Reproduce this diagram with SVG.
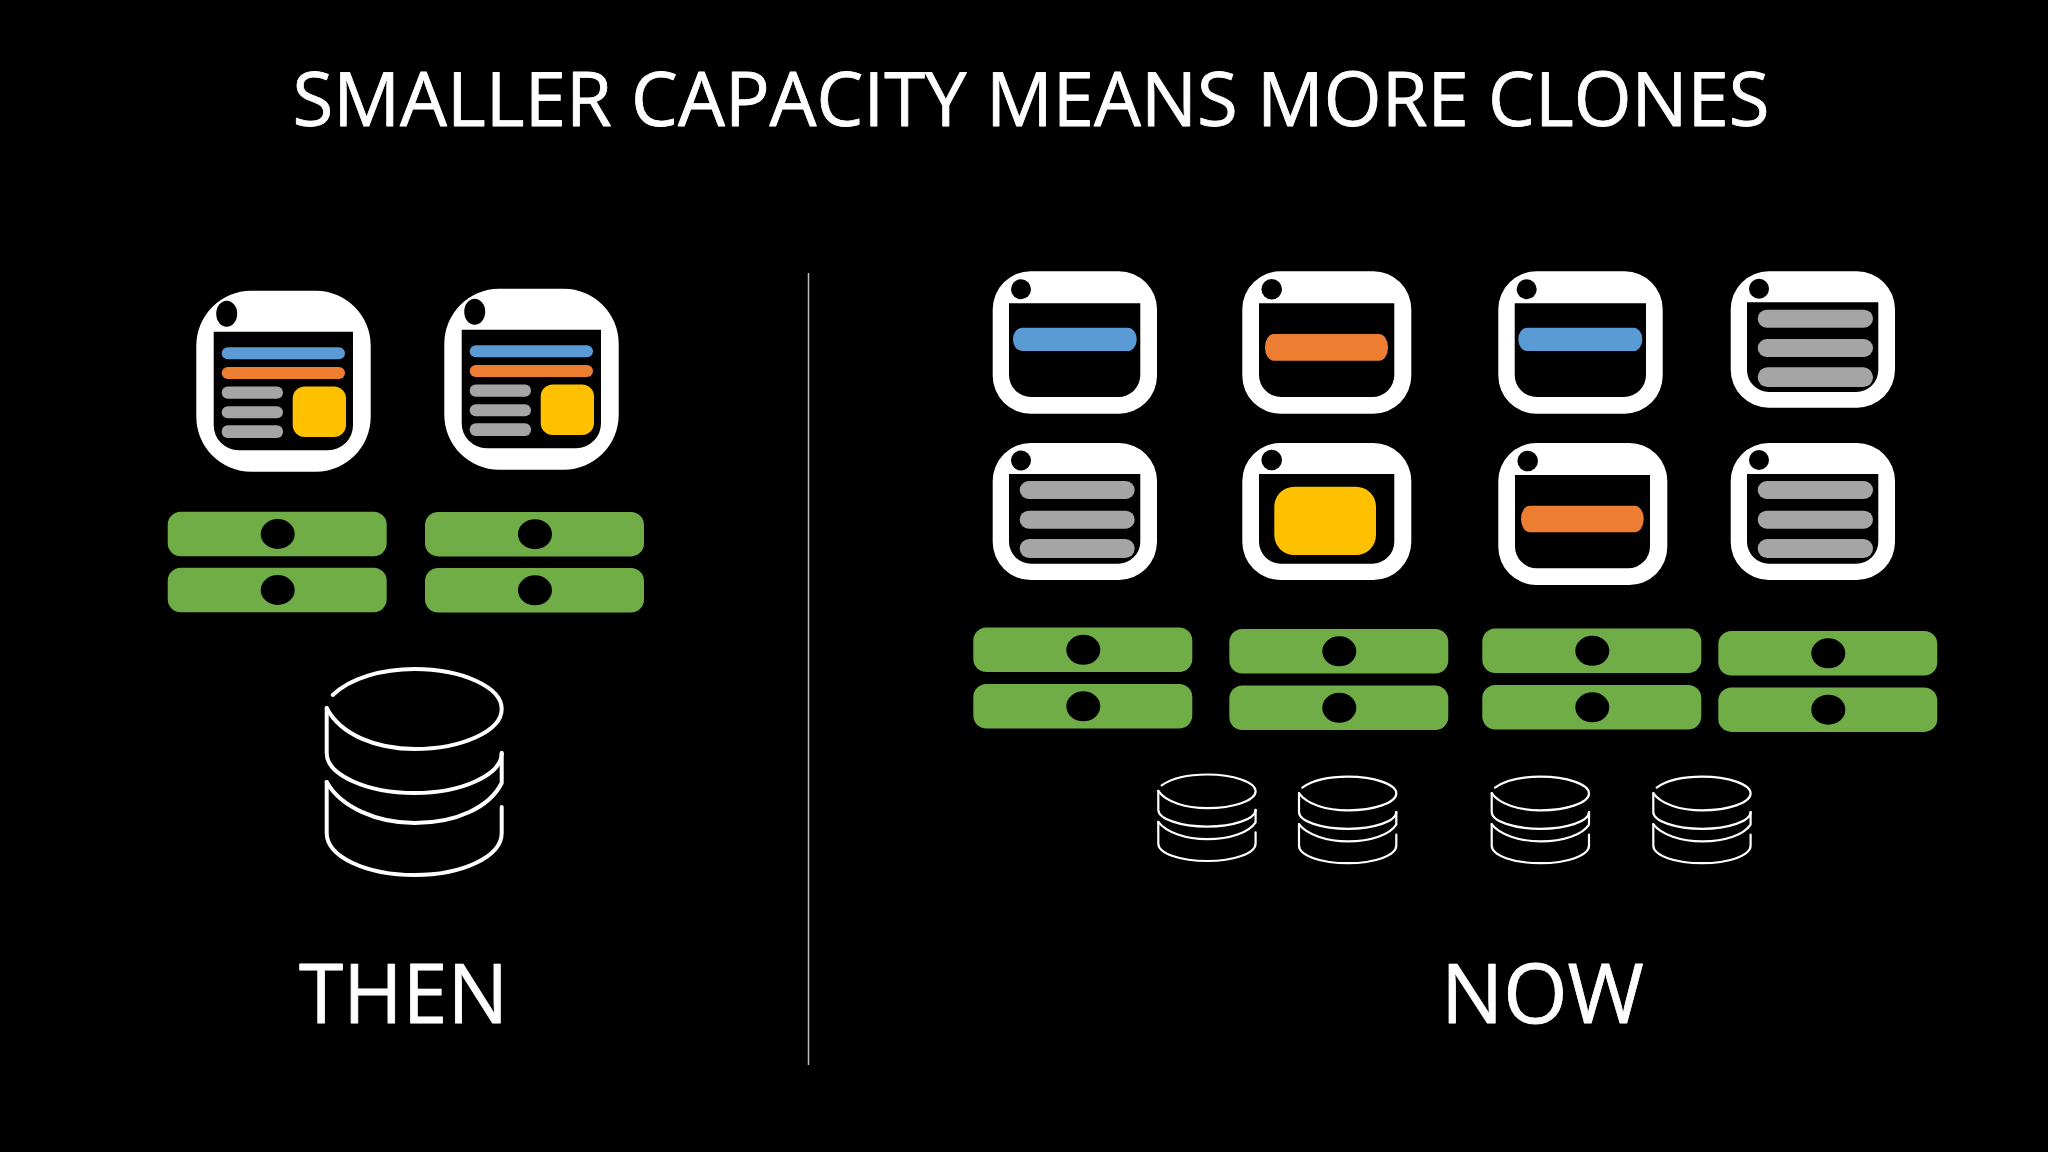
<svg xmlns="http://www.w3.org/2000/svg" xmlns:xlink="http://www.w3.org/1999/xlink" width="2048" height="1152" viewBox="0 0 2048 1152">
<style>
.t{font-family:"Open Sans","Noto Sans","Liberation Sans",sans-serif;fill:#fff;stroke:#fff;stroke-width:.8;stroke-linejoin:round}
.f{fill:#fff;fill-rule:evenodd}
.k{fill:#000}
.b{fill:#5B9BD5}.o{fill:#ED7D31}.g{fill:#A5A5A5}.y{fill:#FFC000}.n{fill:#70AD47}
.d{fill:none;stroke:#fff;stroke-linecap:round;stroke-linejoin:round;vector-effect:non-scaling-stroke}
</style>
<defs>
<g id="db">
<path class="d" d="M6,26C24,9 55,0 88,0C135,0 175,18 175,40C175,62 135,80 88,80C50,80 14,66 0,39"/>
<path class="d" d="M0,39V84C0,106 40,124 88,124C135,124 175,106 175,84"/>
<path class="d" d="M0,113C14,138 50,154 88,154C130,154 163,138 175,114V84"/>
<path class="d" d="M0,113V164C0,188 40,206 88,206C135,206 175,188 175,164V138"/>
</g>
<g id="srv">
<rect class="n" x="0" y="0" width="219" height="44.5" rx="13"/>
<ellipse class="k" cx="110" cy="22.3" rx="17" ry="15"/>
</g>
</defs>
<rect width="2048" height="1152" fill="#000"/>
<text class="t" x="292.5" y="126" font-size="75" textLength="1477" lengthAdjust="spacingAndGlyphs">SMALLER CAPACITY MEANS MORE CLONES</text>
<line x1="808.5" y1="273" x2="808.5" y2="1065" stroke="#bdbdbd" stroke-width="1.5"/>

<g id="then-page-1">
<path class="f" d="M251,290.7H316A55,55 0 0 1 370.7,345.7V416.7A55,55 0 0 1 316,471.7H251A55,55 0 0 1 196.3,416.7V345.7A55,55 0 0 1 251,290.7ZM213.7,331.7V425A25,25 0 0 0 238.7,450.3H328A25,25 0 0 0 353,425V331.7Z"/>
<ellipse class="k" cx="226.7" cy="313.7" rx="10.5" ry="13"/>
<rect class="b" x="221.7" y="347.3" width="123.3" height="12" rx="6"/>
<rect class="o" x="221.7" y="367" width="123.3" height="12" rx="6"/>
<rect class="g" x="221.7" y="386.5" width="61.3" height="12.2" rx="6"/>
<rect class="g" x="221.7" y="406.3" width="61.3" height="12" rx="6"/>
<rect class="g" x="221.7" y="425.2" width="61.3" height="12.8" rx="6"/>
<rect class="y" x="292.7" y="386.5" width="53.3" height="50.5" rx="12"/>
</g>
<g id="then-page-2" transform="translate(248,-2)">
<path class="f" d="M251,290.7H316A55,55 0 0 1 370.7,345.7V416.7A55,55 0 0 1 316,471.7H251A55,55 0 0 1 196.3,416.7V345.7A55,55 0 0 1 251,290.7ZM213.7,331.7V425A25,25 0 0 0 238.7,450.3H328A25,25 0 0 0 353,425V331.7Z"/>
<ellipse class="k" cx="226.7" cy="313.7" rx="10.5" ry="13"/>
<rect class="b" x="221.7" y="347.3" width="123.3" height="12" rx="6"/>
<rect class="o" x="221.7" y="367" width="123.3" height="12" rx="6"/>
<rect class="g" x="221.7" y="386.5" width="61.3" height="12.2" rx="6"/>
<rect class="g" x="221.7" y="406.3" width="61.3" height="12" rx="6"/>
<rect class="g" x="221.7" y="425.2" width="61.3" height="12.8" rx="6"/>
<rect class="y" x="292.7" y="386.5" width="53.3" height="50.5" rx="12"/>
</g>
<g id="then-servers">
<use href="#srv" x="167.7" y="511.7"/>
<use href="#srv" x="167.7" y="567.7"/>
<use href="#srv" x="425" y="511.9"/>
<use href="#srv" x="425" y="568"/>
</g>
<g id="then-db" style="stroke-width:4">
<use href="#db" transform="translate(326.7,669)"/>
</g>

<g id="now-blue-1">
<path class="f" d="M1031,271.3H1119A38,38 0 0 1 1157,309.3V375.7A38,38 0 0 1 1119,413.7H1031A38,38 0 0 1 992.7,375.7V309.3A38,38 0 0 1 1031,271.3ZM1009,303.3V375A22,22 0 0 0 1031,397H1118A22,22 0 0 0 1140.3,375V303.3Z"/>
<circle class="k" cx="1021" cy="289.3" r="10"/>
<rect class="b" x="1013" y="327.7" width="123.7" height="23.3" rx="9" ry="11.5"/>
</g>
<g id="now-orange-1">
<path class="f" d="M1281,271.3H1373A38,38 0 0 1 1411.3,309.3V375.7A38,38 0 0 1 1373,413.7H1281A38,38 0 0 1 1242.3,375.7V309.3A38,38 0 0 1 1281,271.3ZM1259,303.3V375A22,22 0 0 0 1281,397H1372A22,22 0 0 0 1394.3,375V303.3Z"/>
<circle class="k" cx="1271.7" cy="289.3" r="10.3"/>
<rect class="o" x="1265" y="334" width="123" height="26.7" rx="9" ry="13"/>
</g>
<g id="now-blue-2">
<path class="f" d="M1536.3,271.3H1624.7A38,38 0 0 1 1662.7,309.3V375.7A38,38 0 0 1 1624.7,413.7H1536.3A38,38 0 0 1 1498.3,375.7V309.3A38,38 0 0 1 1536.3,271.3ZM1514.7,303.3V375A22,22 0 0 0 1536.7,397H1624A22,22 0 0 0 1646,375V303.3Z"/>
<circle class="k" cx="1526.7" cy="289.3" r="10"/>
<rect class="b" x="1518.3" y="327.7" width="124" height="23.3" rx="9" ry="11.5"/>
</g>
<g id="now-grey-1">
<path class="f" d="M1768.7,271.3H1857A38,38 0 0 1 1895,309.3V369.7A38,38 0 0 1 1857,407.7H1768.7A38,38 0 0 1 1730.7,369.7V309.3A38,38 0 0 1 1768.7,271.3ZM1747,302.3V370A22,22 0 0 0 1769,392H1856.3A22,22 0 0 0 1878.3,370V302.3Z"/>
<circle class="k" cx="1759" cy="288.7" r="10"/>
<rect class="g" x="1757.7" y="309.7" width="115.3" height="18" rx="9"/>
<rect class="g" x="1757.7" y="339" width="115.3" height="18" rx="9"/>
<rect class="g" x="1757.7" y="367.3" width="115.3" height="19.7" rx="9.8"/>
</g>
<g id="now-grey-2">
<path class="f" d="M1031,443H1119A38,38 0 0 1 1157,481V542A38,38 0 0 1 1119,580H1031A38,38 0 0 1 992.7,542V481A38,38 0 0 1 1031,443ZM1009,474V541.7A22,22 0 0 0 1031,563.7H1118A22,22 0 0 0 1140.3,541.7V474Z"/>
<circle class="k" cx="1021" cy="460.5" r="10"/>
<rect class="g" x="1019.7" y="481" width="115" height="18" rx="9"/>
<rect class="g" x="1019.7" y="510.7" width="115" height="18" rx="9"/>
<rect class="g" x="1019.7" y="539" width="115" height="19" rx="9.5"/>
</g>
<g id="now-yellow">
<path class="f" d="M1281,443H1373A38,38 0 0 1 1411.3,481V542A38,38 0 0 1 1373,580H1281A38,38 0 0 1 1242.3,542V481A38,38 0 0 1 1281,443ZM1259,474V541.7A22,22 0 0 0 1281,563.7H1372A22,22 0 0 0 1394.3,541.7V474Z"/>
<circle class="k" cx="1271.7" cy="460" r="10.3"/>
<rect class="y" x="1274.3" y="486.7" width="101.7" height="68.3" rx="20"/>
</g>
<g id="now-orange-2">
<path class="f" d="M1536.3,443H1629A38,38 0 0 1 1667.3,481V547A38,38 0 0 1 1629,585H1536.3A38,38 0 0 1 1498.3,547V481A38,38 0 0 1 1536.3,443ZM1515,475V546.3A22,22 0 0 0 1537,568.3H1628A22,22 0 0 0 1650,546.3V475Z"/>
<circle class="k" cx="1527.7" cy="461" r="10.3"/>
<rect class="o" x="1521" y="505.7" width="122.7" height="26.6" rx="9" ry="13"/>
</g>
<g id="now-grey-3">
<path class="f" d="M1768.7,443H1857A38,38 0 0 1 1895,481V542A38,38 0 0 1 1857,580H1768.7A38,38 0 0 1 1730.7,542V481A38,38 0 0 1 1768.7,443ZM1747,474V541.7A22,22 0 0 0 1769,563.7H1856.3A22,22 0 0 0 1878.3,541.7V474Z"/>
<circle class="k" cx="1759" cy="460" r="10"/>
<rect class="g" x="1757.7" y="481" width="115.3" height="18" rx="9"/>
<rect class="g" x="1757.7" y="510.7" width="115.3" height="18" rx="9"/>
<rect class="g" x="1757.7" y="539" width="115.3" height="19" rx="9.5"/>
</g>

<g id="now-servers">
<use href="#srv" x="973.3" y="627.5"/>
<use href="#srv" x="973.3" y="684"/>
<use href="#srv" x="1229.3" y="629"/>
<use href="#srv" x="1229.3" y="685.5"/>
<use href="#srv" x="1482.3" y="628.5"/>
<use href="#srv" x="1482.3" y="685"/>
<use href="#srv" x="1718.3" y="631"/>
<use href="#srv" x="1718.3" y="687.4"/>
</g>
<g id="now-dbs" style="stroke-width:2.2">
<use href="#db" transform="translate(1158.3,774.5) scale(.556,.42)"/>
<use href="#db" transform="translate(1299,776.7) scale(.556,.42)"/>
<use href="#db" transform="translate(1491.7,776.7) scale(.556,.42)"/>
<use href="#db" transform="translate(1653.3,776.7) scale(.556,.42)"/>
</g>
<text class="t" x="299" y="1022.5" font-size="83" textLength="209" lengthAdjust="spacingAndGlyphs">THEN</text>
<text class="t" x="1441" y="1022.5" font-size="83" textLength="203" lengthAdjust="spacingAndGlyphs">NOW</text>
</svg>
